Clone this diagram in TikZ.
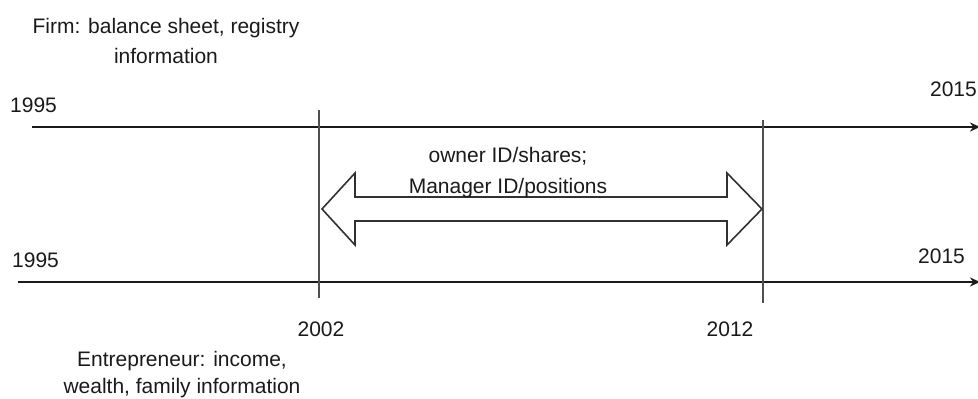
\documentclass[tikz,border=0pt]{standalone}
\usepackage{fontspec}
\setmainfont{Liberation Sans}
\usetikzlibrary{arrows.meta}
\definecolor{ink}{HTML}{1A1A1A}
\definecolor{vline}{HTML}{505050}
\begin{document}
\begin{tikzpicture}[x=1pt,y=-1pt,
  lbl/.style={inner sep=0pt,anchor=base,text=ink,font=\fontsize{21}{25}\selectfont},
  timeline/.style={draw=ink,line width=2.4pt,-{Stealth[length=10pt,width=9pt]}},
  yearmark/.style={draw=vline,line width=1.6pt},
  bigarrow/.style={draw=ink!90,line width=1.6pt,fill=white,line join=miter}]
\useasboundingbox (0,0) rectangle (978,399);
% labels
\node[lbl] (firm1) at (166,33) {Firm: balance sheet, registry};
\node[lbl] (firm2) at (166,63) {information};
\node[lbl,anchor=base west] (y95a) at (10,112) {1995};
\node[lbl,anchor=base east] (y15a) at (977,96) {2015};
\node[lbl,anchor=base west] (y95b) at (12,267) {1995};
\node[lbl,anchor=base west] (y15b) at (918,263) {2015};
\node[lbl] (y02) at (321,336) {2002};
\node[lbl] (y12) at (730,336) {2012};
\node[lbl] (ent1) at (182,366) {Entrepreneur: income,};
\node[lbl] (ent2) at (182,393) {wealth, family information};
% timelines
\coordinate (t1s) at (32,127);
\coordinate (t1e) at (980,127);
\coordinate (t2s) at (18,282);
\coordinate (t2e) at (980,282);
\draw[timeline] (t1s) -- (t1e);
\draw[timeline] (t2s) -- (t2e);
% vertical markers
\coordinate (v1t) at (319,110);
\coordinate (v1b) at (319,298);
\coordinate (v2t) at (763,120);
\coordinate (v2b) at (763,303);
\draw[yearmark] (v1t) -- (v1b);
\draw[yearmark] (v2t) -- (v2b);
% double arrow
\draw[bigarrow] (322,209) -- (355,173) -- (355,197) -- (727,197) -- (727,173)
  -- (762,209) -- (727,245) -- (727,221) -- (355,221) -- (355,245) -- cycle;
\node[lbl] (own1) at (508,162) {owner ID/shares;};
\node[lbl] (own2) at (508,193) {Manager ID/positions};
\end{tikzpicture}
\end{document}
